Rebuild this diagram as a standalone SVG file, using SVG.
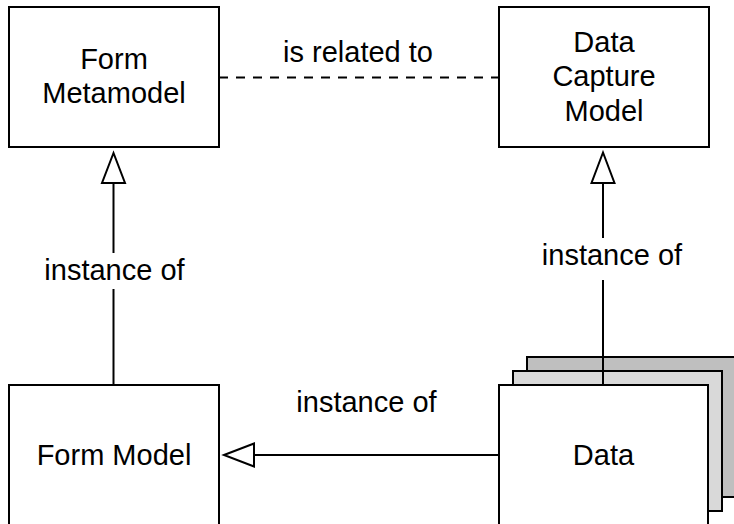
<svg xmlns="http://www.w3.org/2000/svg" width="734" height="524" viewBox="0 0 734 524">
  <style>
    .box { fill: #ffffff; stroke: #000000; stroke-width: 2; }
    .lbl { font-family: "Liberation Sans", Arial, Helvetica, sans-serif; font-size: 29px; fill: #000000; text-anchor: middle; }
    .ln { fill: none; stroke: #000000; stroke-width: 2; }
    .dash { stroke-dasharray: 9 8; }
    .head { fill: #ffffff; stroke: #000000; stroke-width: 2; stroke-linejoin: miter; }
  </style>
  <rect width="734" height="524" fill="#ffffff"/>

  <g id="form-metamodel">
    <rect class="box" x="9" y="7" width="210" height="140"/>
    <text class="lbl" x="114" y="68.5">Form</text>
    <text class="lbl" x="114" y="103">Metamodel</text>
  </g>

  <g id="data-capture-model">
    <rect class="box" x="499" y="7" width="210" height="140"/>
    <text class="lbl" x="604" y="51.5">Data</text>
    <text class="lbl" x="604" y="86">Capture</text>
    <text class="lbl" x="604" y="120.5">Model</text>
  </g>

  <g id="form-model">
    <rect class="box" x="9" y="385" width="210" height="140"/>
    <text class="lbl" x="114" y="465">Form Model</text>
  </g>

  <g id="data">
    <rect class="box" x="527" y="357" width="210" height="140" style="fill:#bfbfbf"/>
    <rect class="box" x="513" y="371" width="209" height="140" style="fill:#d9d9d9"/>
  </g>

  <g id="connectors">
    <line class="ln dash" x1="219" y1="77.5" x2="499" y2="77.5"/>
    <line class="ln" x1="113.5" y1="183" x2="113.5" y2="253"/>
    <line class="ln" x1="113.5" y1="289" x2="113.5" y2="385"/>
    <polygon class="head" points="113.5,153 102,183 125,183"/>
    <line class="ln" x1="603" y1="183" x2="603" y2="238"/>
    <line class="ln" x1="603" y1="280" x2="603" y2="385"/>
    <polygon class="head" points="603,152.5 591.5,183 614.5,183"/>
    <line class="ln" x1="254" y1="455" x2="499" y2="455"/>
    <polygon class="head" points="224,455 254,443.5 254,466.5"/>
    <text class="lbl" x="358" y="61.5">is related to</text>
    <text class="lbl" x="114.5" y="279.5">instance of</text>
    <text class="lbl" x="612" y="265">instance of</text>
    <text class="lbl" x="366.5" y="411.5">instance of</text>
  </g>

  <g id="data-front">
    <rect class="box" x="499" y="385" width="209" height="140"/>
    <text class="lbl" x="603.5" y="465">Data</text>
  </g>
</svg>
